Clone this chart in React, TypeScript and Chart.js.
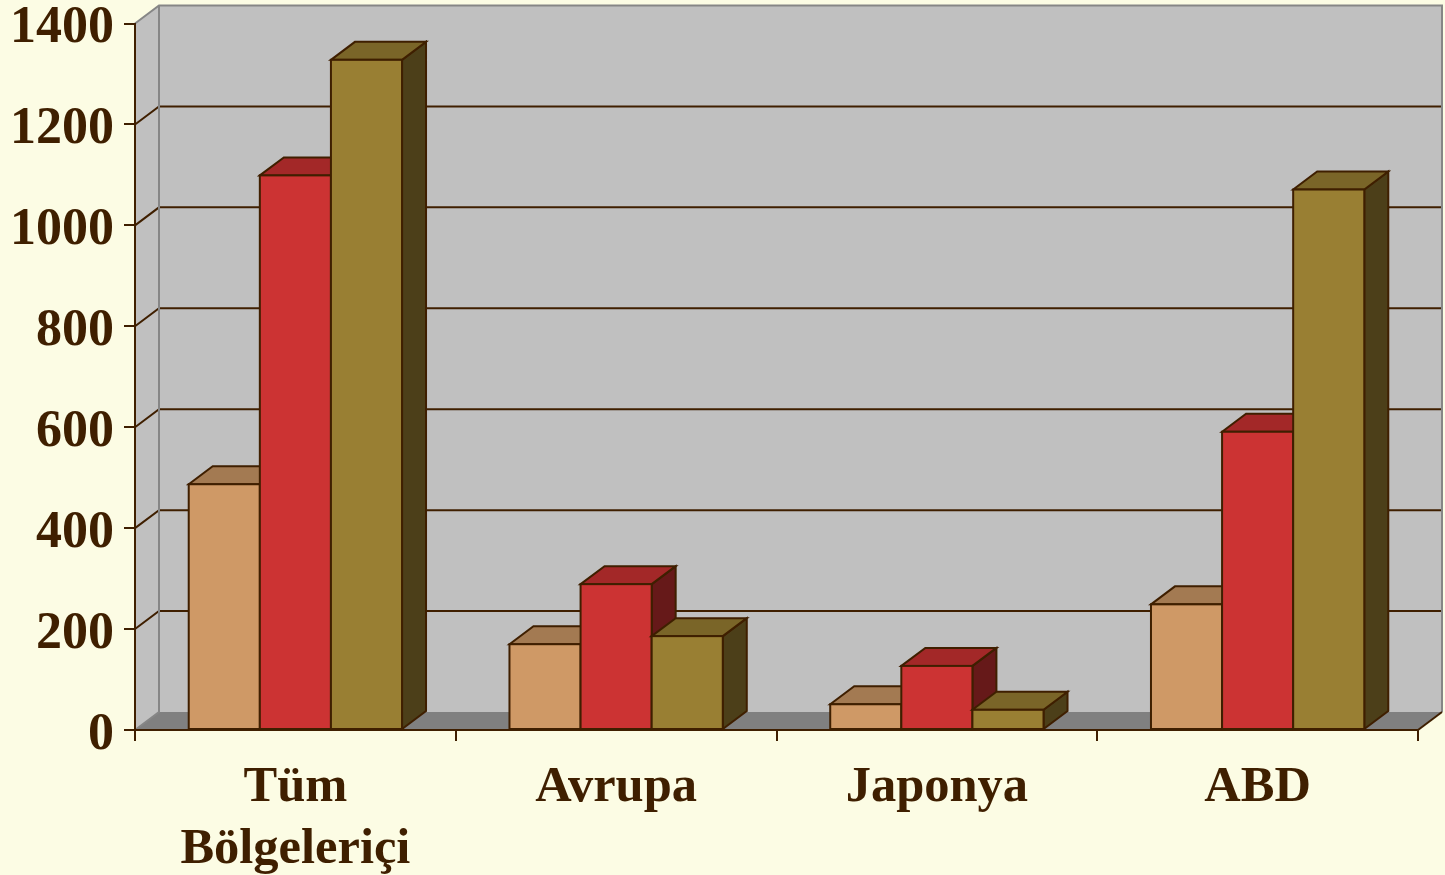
import React, { useEffect, useRef } from "react";
import { Chart, registerables } from "chart.js";

Chart.register(...registerables);

const categories = [["Tüm", "Bölgeleriçi"], "Avrupa", "Japonya", "ABD"];
const seriesA = [487, 170, 51, 249];
const seriesB = [1099, 289, 127, 591];
const seriesC = [1328, 186, 40, 1071];
const yTicks = [0, 200, 400, 600, 800, 1000, 1200, 1400];

const INK = "#3F1F00";
const WALL = "#C0C0C0";
const FLOOR = "#808080";
const EDGE = "#868686";
const PAGE = "#FCFCE4";
const DX = 24;
const DY = -18;
const FONT = "'Liberation Serif', 'Times New Roman', serif";

const faces: Record<number, { top: string; side: string }> = {
  0: { top: "#A37A52", side: "#664C33" },
  1: { top: "#A32828", side: "#661919" },
  2: { top: "#7A6528", side: "#4C3F19" },
};

function poly(ctx: CanvasRenderingContext2D, pts: number[][], fill?: string, stroke?: string, lw = 2) {
  ctx.beginPath();
  pts.forEach(([x, y], i) => (i ? ctx.lineTo(x, y) : ctx.moveTo(x, y)));
  ctx.closePath();
  if (fill) {
    ctx.fillStyle = fill;
    ctx.fill();
  }
  if (stroke) {
    ctx.strokeStyle = stroke;
    ctx.lineWidth = lw;
    ctx.lineJoin = "miter";
    ctx.stroke();
  }
}

function line(ctx: CanvasRenderingContext2D, pts: number[][], stroke: string, lw: number) {
  ctx.beginPath();
  pts.forEach(([x, y], i) => (i ? ctx.lineTo(x, y) : ctx.moveTo(x, y)));
  ctx.strokeStyle = stroke;
  ctx.lineWidth = lw;
  ctx.stroke();
}

const box3d = {
  id: "box3d",
  beforeDraw(chart: any) {
    const { ctx, chartArea: a, scales } = chart;
    const { left: l, right: r, top: t, bottom: b } = a;
    scales.y.getLabelItems(a).forEach((item: any) => {
      if (!item.shifted) {
        item.textOffset += 5.5;
        item.shifted = true;
      }
    });
    ctx.save();
    poly(ctx, [[l + DX, t + DY], [r + DX, t + DY], [r + DX, b + DY], [l + DX, b + DY]], WALL);
    poly(ctx, [[l, t], [l + DX, t + DY], [l + DX, b + DY], [l, b]], WALL);
    poly(ctx, [[l, b], [l + DX, b + DY], [r + DX, b + DY], [r, b]], FLOOR);
    yTicks.forEach((v) => {
      if (v === 0 || v === 1400) return;
      const y = scales.y.getPixelForValue(v);
      line(ctx, [[l, y], [l + DX, y + DY], [r + DX, y + DY]], INK, 2);
    });
    line(ctx, [[l, t], [l + DX, t + DY], [r + DX, t + DY], [r + DX, b + DY]], EDGE, 2);
    line(ctx, [[l + DX, t + DY], [l + DX, b + DY], [l, b]], EDGE, 2);
    line(ctx, [[r, b], [r + DX, b + DY]], INK, 2);
    ctx.restore();
  },
  beforeDatasetsDraw(chart: any) {
    const { ctx } = chart;
    [0, 1, 2].forEach((i) => {
      const meta = chart.getDatasetMeta(i);
      const f = faces[i];
      ctx.save();
      meta.data.forEach((bar: any) => {
        const { x, y, width, base } = bar.getProps(["x", "y", "width", "base"], true);
        const x0 = x - width / 2;
        const x1 = x + width / 2;
        poly(ctx, [[x1, y], [x1 + DX, y + DY], [x1 + DX, base + DY], [x1, base]], f.side, INK, 2);
        poly(ctx, [[x0, y], [x0 + DX, y + DY], [x1 + DX, y + DY], [x1, y]], f.top, INK, 2);
      });
      meta.controller.draw();
      meta.data.forEach((bar: any) => {
        const { x, y, width, base } = bar.getProps(["x", "y", "width", "base"], true);
        ctx.strokeStyle = INK;
        ctx.lineWidth = 2;
        ctx.strokeRect(x - width / 2, y, width, base - y);
      });
      ctx.restore();
    });
    return false;
  },
};

function clearPadding(s: any) {
  s.paddingTop = 0;
  s.paddingBottom = 0;
  s.paddingLeft = 0;
  s.paddingRight = 0;
}

export default function App() {
  const ref = useRef<HTMLCanvasElement>(null);

  useEffect(() => {
    document.body.style.margin = "0";
    document.body.style.background = PAGE;
    const xFont = { family: FONT, size: 50.5, weight: "bold" as const, lineHeight: 1.23 };
    const yFont = { family: FONT, size: 52, weight: "bold" as const };
    const chart = new Chart(ref.current!, {
      type: "bar",
      data: {
        labels: categories as any,
        datasets: [
          { label: "A", data: seriesA, backgroundColor: "#CF9966", borderWidth: 0 },
          { label: "B", data: seriesB, backgroundColor: "#CC3333", borderWidth: 0 },
          { label: "C", data: seriesC, backgroundColor: "#997F33", borderWidth: 0 },
        ],
      },
      plugins: [box3d],
      options: {
        responsive: false,
        animation: false,
        devicePixelRatio: 1,
        layout: { autoPadding: false, padding: { top: 23.5, right: 27, left: 0, bottom: 0 } },
        plugins: { legend: { display: false }, tooltip: { enabled: false }, title: { display: false } },
        datasets: { bar: { categoryPercentage: 0.665, barPercentage: 1 } },
        scales: {
          x: {
            grid: { drawOnChartArea: false, drawTicks: true, tickLength: 11, color: INK, lineWidth: 2 },
            border: { color: INK, width: 2 },
            ticks: { color: INK, font: xFont, padding: 16, maxRotation: 0, autoSkip: false },
            afterFit: (s: any) => {
              s.height = 145;
              clearPadding(s);
            },
          },
          y: {
            min: 0,
            max: 1400,
            grid: { drawOnChartArea: false, drawTicks: true, tickLength: 11, color: INK, lineWidth: 2 },
            border: { color: INK, width: 2 },
            ticks: { stepSize: 200, color: INK, font: yFont, padding: 10, callback: (v: any) => String(v) },
            afterFit: (s: any) => {
              s.width = 135;
              clearPadding(s);
            },
          },
        },
      } as any,
    });
    return () => chart.destroy();
  }, []);

  return <canvas ref={ref} width={1445} height={875} style={{ display: "block" }} />;
}
